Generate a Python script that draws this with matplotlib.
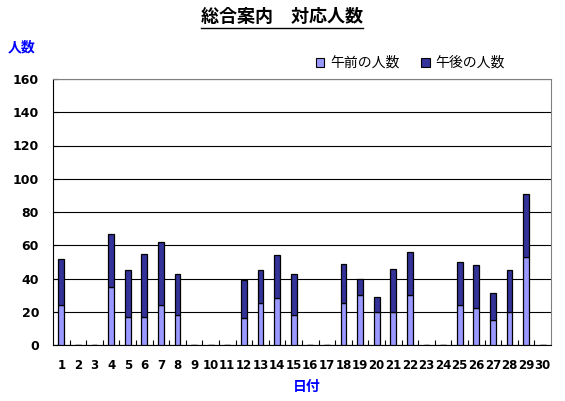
import matplotlib
matplotlib.use("Agg")
import matplotlib.pyplot as plt
from matplotlib.lines import Line2D
from matplotlib.patches import Patch
import numpy as np

plt.rcParams['font.family'] = ['Noto Sans CJK JP', 'DejaVu Sans']

days = list(range(1, 31))
morning = [24, 0, 0, 35, 17, 17, 24, 18, 0, 0, 0, 16, 25, 28, 18,
           0, 0, 25, 30, 20, 20, 30, 0, 0, 24, 22, 15, 20, 53, 0]
afternoon = [28, 0, 0, 32, 28, 38, 38, 25, 0, 0, 0, 23, 20, 26, 25,
             0, 0, 24, 10, 9, 26, 26, 0, 0, 26, 26, 16, 25, 38, 0]
tick_labels = [str(d) for d in days]
yticks = [0, 20, 40, 60, 80, 100, 120, 140, 160]

title = "総合案内　対応人数"
ylabel = "人数"
xlabel = "日付"
series_names = ["午前の人数", "午後の人数"]
c_am = "#9999FF"
c_pm = "#333399"

fig = plt.figure(figsize=(5.65, 4.01), dpi=100)
ax = fig.add_axes([53/565, 1-345/401, 498/565, 266/401])

x = np.array(days)
w = 0.36
ax.bar(x, morning, width=w, color=c_am, edgecolor="black", linewidth=0.9, zorder=3)
ax.bar(x, afternoon, width=w, bottom=morning, color=c_pm, edgecolor="black", linewidth=0.9, zorder=3)

ax.set_xlim(0.5, 30.5)
ax.set_ylim(0, 160)
ax.set_yticks(yticks)
ax.set_yticklabels([str(v) for v in yticks], family="DejaVu Sans", fontweight="bold", fontsize=9)
ax.set_xticks(x)
ax.set_xticklabels(tick_labels, family="DejaVu Sans", fontweight="bold", fontsize=8.5)
ax.set_xticks(np.arange(1.5, 30.5, 1), minor=True)
ax.tick_params(axis="x", which="major", length=0, pad=10)
ax.tick_params(axis="x", which="minor", direction="in", length=3.5, width=0.8, color="black")
ax.tick_params(axis="y", direction="in", length=3.5, width=0.8, pad=10)

ax.yaxis.grid(True, color="black", linewidth=0.8, zorder=1)
ax.set_axisbelow(True)
for s in ["top", "right"]:
    ax.spines[s].set_color("#808080")
    ax.spines[s].set_linewidth(0.8)
for s in ["left", "bottom"]:
    ax.spines[s].set_color("black")
    ax.spines[s].set_linewidth(0.8)

handles = [Patch(facecolor=c_am, edgecolor="black", linewidth=0.8),
           Patch(facecolor=c_pm, edgecolor="black", linewidth=0.8)]
ax.legend(handles, series_names, loc="center right", bbox_to_anchor=(0.907, 1.06),
          ncol=2, frameon=False, fontsize=10, handlelength=0.6, handleheight=0.6,
          handletextpad=0.4, columnspacing=1.6, borderaxespad=0, borderpad=0)

fig.text(282/565, 1-17/401, title, ha="center", va="center", fontsize=13, fontweight="bold")
fig.text(8/565, 1-47/401, ylabel, ha="left", va="center", fontsize=10, fontweight="bold", color="#0000FF")
fig.text(307/565, 1-387/401, xlabel, ha="center", va="center", fontsize=10, fontweight="bold", color="#0000FF")

# underline title
fig.canvas.draw()
t = [a for a in fig.texts if a.get_text() == title][0]
bb = t.get_window_extent(renderer=fig.canvas.get_renderer())
yline = bb.y0 - 1
fig.add_artist(Line2D([bb.x0/565, bb.x1/565], [yline/401, yline/401],
                      transform=fig.transFigure, color="black", linewidth=1.0))

fig.savefig("out.png", dpi=100)
